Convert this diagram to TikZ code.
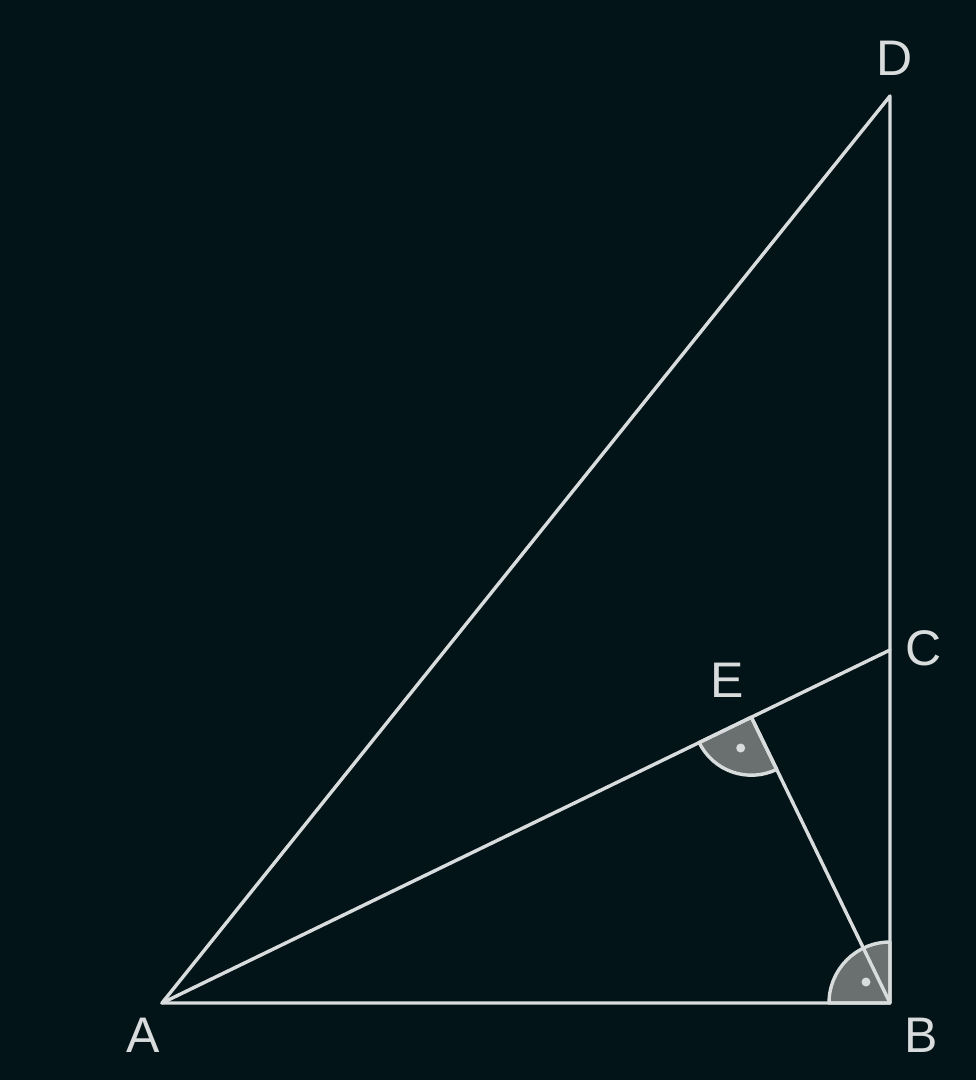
\documentclass[tikz,border=0pt]{standalone}
\usepackage{fontspec}
\setmainfont{Liberation Sans}
\usetikzlibrary{calc}
\definecolor{bgc}{HTML}{031418}
\definecolor{linec}{HTML}{D9DCDD}
\definecolor{fillc}{HTML}{6A6F70}
\begin{document}
\begin{tikzpicture}[x=1pt,y=-1pt,
  seg/.style={draw=linec,line width=3.4pt,line cap=round,line join=round},
  anglemark/.style={draw=linec,fill=fillc,line width=3.4pt,line join=round},
  lbl/.style={text=linec,font=\fontsize{50}{50}\selectfont,inner sep=0pt,anchor=center},
  dotc/.style={fill=linec,circle,inner sep=0pt,minimum size=9pt}]
\fill[bgc] (0,0) rectangle (976,1080);
\useasboundingbox (0,0) rectangle (976,1080);
\coordinate (A) at (162,1003);
\coordinate (B) at (890,1003);
\coordinate (C) at (890,650);
\coordinate (D) at (890,96);
\coordinate (E) at ($(A)!(B)!(C)$);
% angle marks
\path[anglemark] (E) -- ($(E)!58pt!(A)$) arc[start angle=205.9,end angle=295.9,radius=58pt] -- cycle;
\path[anglemark] (B) -- ($(B)!61pt!(A)$) arc[start angle=180,end angle=90,radius=61pt] -- cycle;
\node[dotc] (dE) at ($(E)+(-10.7,30.8)$) {};
\node[dotc] (dB) at ($(B)+(-24,-21)$) {};
% segments
\draw[seg] (A) -- (B) -- (D) -- cycle;
\draw[seg] (A) -- (C);
\draw[seg] (E) -- (B);
% labels
\node[lbl] (lA) at (143.5,1035) {A};
\node[lbl] (lB) at (921.5,1035.5) {B};
\node[lbl] (lC) at (924,648) {C};
\node[lbl] (lD) at (894.5,58) {D};
\node[lbl] (lE) at (727,680.5) {E};
\end{tikzpicture}
\end{document}
